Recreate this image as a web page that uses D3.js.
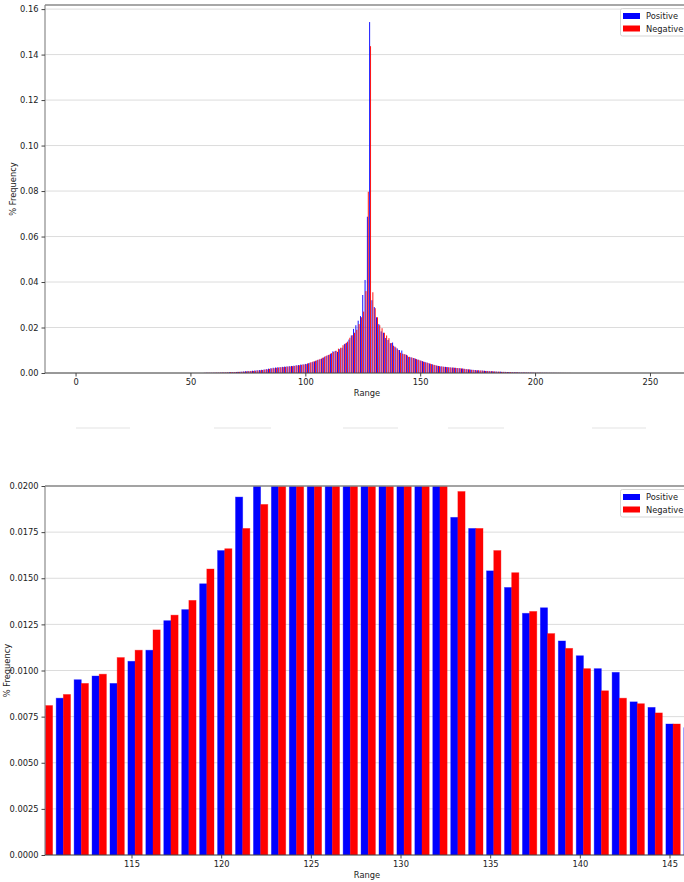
<!DOCTYPE html>
<html><head><meta charset="utf-8">
<script src="https://cdn.jsdelivr.net/npm/d3@7"></script>
<style>body{margin:0;background:#fff}svg{display:block}text{font-family:"DejaVu Sans",sans-serif}</style>
</head><body><svg id="c" width="684" height="882"></svg>
<script>
// ---- DATA ----
const rangeStart = 56; // first category with data (categories 0..55 and >215 are zero)
const positive = [
0.00005,0.0001,0.0001,0.0001,0.0001,0.00012,0.00015,0.00018,0.0002,0.00022, // 56-65
0.00028,0.0003,0.00035,0.0004,0.00045,0.0005,0.0006,0.0007,0.0008,0.0009, // 66-75
0.0009,0.0010,0.0011,0.0012,0.0013,0.0014,0.0015,0.0017,0.0019,0.0021, // 76-85
0.0023,0.0024,0.0025,0.0026,0.0027,0.0028,0.0029,0.0030,0.0031,0.0032, // 86-95
0.0034,0.0035,0.0037,0.0038,0.0040,0.0042,0.0045,0.0048,0.0051,0.0055, // 96-105
0.0059,0.0063,0.0068,0.0074,0.0079,0.0085,0.0095,0.0097,0.0093,0.0105, // 106-115
0.0111,0.0127,0.0133,0.0147,0.0165,0.0194,0.0210,0.0230,0.0250,0.0343, // 116-125
0.0409,0.0687,0.1543,0.0320,0.0290,0.0245,0.0215,0.0183,0.0177,0.0154, // 126-135
0.0145,0.0131,0.0134,0.0116,0.0108,0.0101,0.0099,0.0083,0.0080,0.0071, // 136-145
0.0069,0.0066,0.0063,0.0059,0.0055,0.0052,0.0049,0.0046,0.0042,0.0039, // 146-155
0.0036,0.0033,0.0031,0.0029,0.0028,0.0027,0.0026,0.0025,0.0024,0.0023, // 156-165
0.0022,0.0021,0.0020,0.0019,0.0017,0.0016,0.0015,0.0014,0.0013,0.0012, // 166-175
0.0011,0.0011,0.0010,0.0009,0.0009,0.0008,0.0007,0.0007,0.0006,0.0006, // 176-185
0.0005,0.0005,0.0004,0.0004,0.0004,0.0003,0.0003,0.0003,0.0002,0.0002, // 186-195
0.0002,0.0002,0.00015,0.00015,0.00012,0.0001,0.0001,0.0001,0.00008,0.00008, // 196-205
0.00006,0.00006,0.00005,0.00005,0.00004,0.00004,0.00003,0.00003,0.00002,0.00002 // 206-215
];
const negative = [
0.00008,0.0001,0.0001,0.0001,0.00012,0.00015,0.00015,0.0002,0.0002,0.00025,
0.0003,0.0004,0.0004,0.00045,0.0005,0.0005,0.00055,0.0006,0.0007,0.0008,
0.0009,0.0009,0.0010,0.0011,0.0012,0.0013,0.0015,0.0016,0.0018,0.0020,
0.0021,0.0023,0.0024,0.0025,0.0026,0.0027,0.0028,0.0029,0.0030,0.0031,
0.0033,0.0034,0.0036,0.0037,0.0039,0.0043,0.0047,0.0051,0.0054,0.0058,
0.0062,0.0067,0.0072,0.0077,0.0081,0.0087,0.0093,0.0098,0.0107,0.0111,
0.0122,0.0130,0.0138,0.0155,0.0166,0.0177,0.0190,0.0215,0.0245,0.0270,
0.0360,0.0797,0.1437,0.0355,0.0285,0.0245,0.0210,0.0197,0.0177,0.0165,
0.0153,0.0132,0.0120,0.0112,0.0101,0.0089,0.0085,0.0082,0.0077,0.0071,
0.0068,0.0065,0.0061,0.0058,0.0054,0.0050,0.0047,0.0044,0.0041,0.0038,
0.0035,0.0032,0.0030,0.0029,0.0027,0.0026,0.0025,0.0024,0.0024,0.0023,
0.0022,0.0021,0.0020,0.0018,0.0017,0.0016,0.0014,0.0013,0.0012,0.0012,
0.0011,0.0010,0.0009,0.0009,0.0008,0.0008,0.0007,0.0006,0.0006,0.0005,
0.0005,0.0004,0.0004,0.0004,0.0003,0.0003,0.0003,0.0002,0.0002,0.0002,
0.0002,0.00015,0.00015,0.00012,0.0001,0.0001,0.0001,0.00008,0.00008,0.00006,
0.00006,0.00005,0.00005,0.00004,0.00004,0.00003,0.00003,0.00002,0.00002,0.00002
];
const categories = positive.map((_, i) => rangeStart + i);
const seriesNames = ["Positive", "Negative"];
const seriesColors = ["#0000ff", "#ff0000"];
const topXTicks = [0, 50, 100, 150, 200, 250];
const topYTicks = [0, 0.02, 0.04, 0.06, 0.08, 0.10, 0.12, 0.14, 0.16];
const botXTicks = [115, 120, 125, 130, 135, 140, 145];
const botYTicks = [0, 0.0025, 0.005, 0.0075, 0.01, 0.0125, 0.015, 0.0175, 0.02];

const rows = categories.map((c, i) => ({c, v: [positive[i], negative[i]]}));
const svg = d3.select("#c");
const barW = 0.4;

function panel(cfg) {
  const {x, y, left, right, top, bottom, xTicks, yTicks, yFmt, id} = cfg;
  const g = svg.append("g");
  g.append("clipPath").attr("id", id).append("rect")
    .attr("x", left).attr("y", top).attr("width", right - left).attr("height", bottom - top);
  // grid
  g.append("g").selectAll("line").data(yTicks).join("line")
    .attr("x1", left).attr("x2", right).attr("y1", d => y(d)).attr("y2", d => y(d))
    .attr("stroke", "#dcdcdc").attr("stroke-width", 1);
  // bars
  const bars = g.append("g").attr("clip-path", `url(#${id})`);
  seriesNames.forEach((s, k) => {
    bars.append("g").selectAll("rect").data(rows.filter(r => r.v[k] > 0)).join("rect")
      .attr("x", d => x(d.c - barW / 2 + k * barW))
      .attr("width", d => x(d.c + barW / 2 + k * barW) - x(d.c - barW / 2 + k * barW))
      .attr("y", d => y(d.v[k]))
      .attr("height", d => y(0) - y(d.v[k]))
      .attr("fill", seriesColors[k])
      .attr("stroke", cfg.stroke ? seriesColors[k] : "none")
      .attr("stroke-opacity", 0.45).attr("stroke-width", 0.8);
  });
  // spines
  g.append("line").attr("x1", left).attr("x2", right).attr("y1", top).attr("y2", top)
    .attr("stroke", "#8a8a8a").attr("stroke-width", 1.5);
  g.append("line").attr("x1", left).attr("x2", left).attr("y1", top).attr("y2", bottom)
    .attr("stroke", "#8a8a8a").attr("stroke-width", 1.2);
  g.append("line").attr("x1", left).attr("x2", right).attr("y1", bottom).attr("y2", bottom)
    .attr("stroke", "#444").attr("stroke-width", 1);
  // x axis
  const xa = d3.axisBottom(x).tickValues(xTicks).tickSize(3.5).tickPadding(3).tickFormat(d3.format("d"));
  const gx = g.append("g").attr("transform", `translate(0,${bottom})`).call(xa);
  gx.select(".domain").remove();
  const ya = d3.axisLeft(y).tickValues(yTicks).tickSize(3.5).tickPadding(3).tickFormat(d3.format(yFmt));
  const gy = g.append("g").attr("transform", `translate(${left},0)`).call(ya);
  gy.select(".domain").remove();
  [gx, gy].forEach(a => {
    a.selectAll("text").attr("font-size", 8.3).attr("fill", "#222").style("font-family", "DejaVu Sans");
    a.selectAll(".tick line").attr("stroke", "#444");
  });
  g.append("text").attr("x", (left + 689) / 2).attr("y", bottom + 23).attr("text-anchor", "middle")
    .attr("font-size", 8.3).attr("fill", "#222").text("Range");
  g.append("text").attr("transform", `translate(${cfg.ylabX},${(top + bottom) / 2}) rotate(-90)`)
    .attr("text-anchor", "middle").attr("font-size", 8.3).attr("fill", "#222").text("% Frequency");
  // legend
  const lg = g.append("g").attr("transform", `translate(620,${top + 3})`);
  lg.append("rect").attr("x", 0.5).attr("y", 0.5).attr("width", 80).attr("height", 27.5)
    .attr("rx", 2).attr("fill", "#fff").attr("fill-opacity", 0.8).attr("stroke", "#d5d5d5");
  seriesNames.forEach((s, k) => {
    lg.append("rect").attr("x", 3).attr("y", 5 + k * 12.5).attr("width", 17).attr("height", 6)
      .attr("fill", seriesColors[k]);
    lg.append("text").attr("x", 26).attr("y", 11 + k * 12.5).attr("font-size", 8.3)
      .attr("fill", "#222").text(s);
  });
}

// top panel: full range
panel({
  id: "clipTop",
  x: d3.scaleLinear().domain([-13.3, 268.3]).range([45, 692]),
  y: d3.scaleLinear().domain([0, 0.1618]).range([373, 5]),
  left: 45, right: 684, top: 5, bottom: 373,
  xTicks: topXTicks, yTicks: topYTicks, yFmt: ".2f", ylabX: 16, stroke: false
});
// bottom panel: zoom on 110..145
panel({
  id: "clipBot",
  x: d3.scaleLinear().domain([115, 145]).range([131.5, 669.5]),
  y: d3.scaleLinear().domain([0, 0.02]).range([855, 486]),
  left: 45, right: 684, top: 486, bottom: 855,
  xTicks: botXTicks, yTicks: botYTicks, yFmt: ".4f", ylabX: 10, stroke: true
});

// faint separator segments between the panels
const sepSegments = [[76, 130], [214, 271], [343, 398], [448, 504], [592, 646]];
svg.append("g").selectAll("line").data(sepSegments).join("line")
  .attr("x1", d => d[0]).attr("x2", d => d[1]).attr("y1", 428).attr("y2", 428)
  .attr("stroke", "#ececec").attr("stroke-width", 1.5);
</script></body></html>
